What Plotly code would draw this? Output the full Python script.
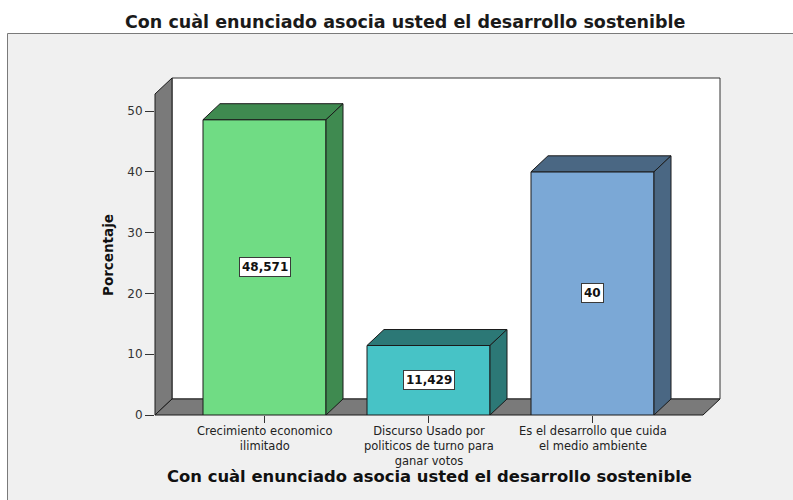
import plotly.graph_objects as go

# ---------------- data ----------------
categories = [
    "Crecimiento economico<br>ilimitado",
    "Discurso Usado por<br>politicos de turno para<br>ganar votos",
    "Es el desarrollo que cuida<br>el medio ambiente",
]
percentages = [48.571, 11.429, 40.0]
y_ticks = [0, 10, 20, 30, 40, 50]
title_text = "Con cuàl enunciado asocia usted el desarrollo sostenible"
x_title = "Con cuàl enunciado asocia usted el desarrollo sostenible"
y_title = "Porcentaje"

# ---------------- style ----------------
front_colors = ["#70DC84", "#47C3C6", "#7BA8D6"]
shade_colors = ["#3F8A50", "#2C7876", "#4A6783"]
EDGE = "#1a1a1a"
WALL = "#7a7a7a"
FONT = "DejaVu Sans"

W, H = 793, 500
L, R, T, B = 155, 720, 78, 415          # plot area in pixels
X_RANGE = [-0.6677, 2.7774]
Y_RANGE = [0.0, 55.43]
DX, DY = 0.1037, 2.63                   # 3D depth offset in axis units
BAR_W = 0.75

xs = list(range(len(categories)))
x0, xr = X_RANGE
ytop = Y_RANGE[1]


def px(xv):
    return (xv - X_RANGE[0]) / (X_RANGE[1] - X_RANGE[0])


def py(yv):
    return (yv - Y_RANGE[0]) / (Y_RANGE[1] - Y_RANGE[0])


def ppx(pixel):
    return (pixel - L) / (R - L)


def ppy(pixel):
    return (B - pixel) / (B - T)


def poly(points):
    return "M " + " L ".join(f"{px(a):.5f},{py(b):.5f}" for a, b in points) + " Z"


fig = go.Figure()

# front faces of bars
fig.add_trace(go.Bar(
    x=xs, y=percentages, width=BAR_W,
    marker=dict(color=front_colors, line=dict(color=EDGE, width=1)),
    hoverinfo="skip", showlegend=False,
))

# top and side faces
for c, v, col in zip(xs, percentages, shade_colors):
    l, r = c - BAR_W / 2, c + BAR_W / 2
    top = [(l, v), (l + DX, v + DY), (r + DX, v + DY), (r, v), (l, v)]
    side = [(r, v), (r + DX, v + DY), (r + DX, DY), (r, 0), (r, v)]
    for pts in (top, side):
        fig.add_trace(go.Scatter(
            x=[p[0] for p in pts], y=[p[1] for p in pts],
            mode="lines", fill="toself", fillcolor=col,
            line=dict(color=EDGE, width=1),
            hoverinfo="skip", showlegend=False,
        ))

shapes = [
    # outer chart frame
    dict(type="rect", xref="paper", yref="paper",
         x0=ppx(7.5), x1=ppx(805), y0=ppy(510), y1=ppy(33.5),
         fillcolor="#F0F0F0", line=dict(color="#7a7a7a", width=1), layer="below"),
    # back wall
    dict(type="path", xref="paper", yref="paper",
         path=poly([(x0 + DX, DY), (x0 + DX, ytop), (xr, ytop), (xr, DY)]),
         fillcolor="white", line=dict(color="#333333", width=1), layer="below"),
    # left wall
    dict(type="path", xref="paper", yref="paper",
         path=poly([(x0, 0), (x0, ytop - DY), (x0 + DX, ytop), (x0 + DX, DY)]),
         fillcolor=WALL, line=dict(color=EDGE, width=1), layer="below"),
    # floor
    dict(type="path", xref="paper", yref="paper",
         path=poly([(x0, 0), (xr - DX, 0), (xr, DY), (x0 + DX, DY)]),
         fillcolor=WALL, line=dict(color=EDGE, width=1), layer="below"),
]

annotations = []
# value labels
for c, v in zip(xs, percentages):
    annotations.append(dict(
        x=c, y=v / 2, xref="x", yref="y", showarrow=False,
        text=f"{v:g}".replace(".", ","),
        font=dict(family=FONT, size=12, color="#111111", weight="bold"),
        bgcolor="white", bordercolor="#3a3a3a", borderwidth=1, borderpad=2,
    ))
# category labels
for c, cat in zip(xs, categories):
    annotations.append(dict(
        x=c, y=0, xref="x", yref="y", showarrow=False,
        text=cat, yanchor="top", yshift=-6.5,
        font=dict(family=FONT, size=11.5, color="#222222"),
    ))
# titles
annotations.append(dict(
    x=ppx(405), y=ppy(22.5), xref="paper", yref="paper", showarrow=False,
    text=title_text, yanchor="middle",
    font=dict(family=FONT, size=17.5, color="#1a1a1a", weight="bold"),
))
annotations.append(dict(
    x=ppx(429.5), y=ppy(476.5), xref="paper", yref="paper", showarrow=False,
    text=x_title, yanchor="middle",
    font=dict(family=FONT, size=16.4, color="#111111", weight="bold"),
))
annotations.append(dict(
    x=ppx(108), y=ppy(255), xref="paper", yref="paper", showarrow=False,
    text=y_title, textangle=-90, xanchor="center", yanchor="middle",
    font=dict(family=FONT, size=13.5, color="#111111", weight="bold"),
))

fig.update_layout(
    width=W, height=H, autosize=False,
    margin=dict(l=L, r=W - R, t=T, b=H - B, pad=0),
    paper_bgcolor="white", plot_bgcolor="rgba(0,0,0,0)",
    shapes=shapes, annotations=annotations, showlegend=False,
    xaxis=dict(range=X_RANGE, tickvals=xs, showticklabels=False,
               ticks="outside", ticklen=7, tickcolor="#333333",
               showgrid=False, zeroline=False, showline=False, fixedrange=True),
    yaxis=dict(range=Y_RANGE, tickvals=y_ticks, ticks="outside", ticklen=9,
               tickcolor="#333333",
               tickfont=dict(family=FONT, size=12, color="#333333"),
               showgrid=False, zeroline=False, showline=False, fixedrange=True),
)

fig.write_html("out.html", config={"displayModeBar": False},
               post_script="document.body.style.margin='0px';"
                           "document.body.style.overflow='hidden';")
